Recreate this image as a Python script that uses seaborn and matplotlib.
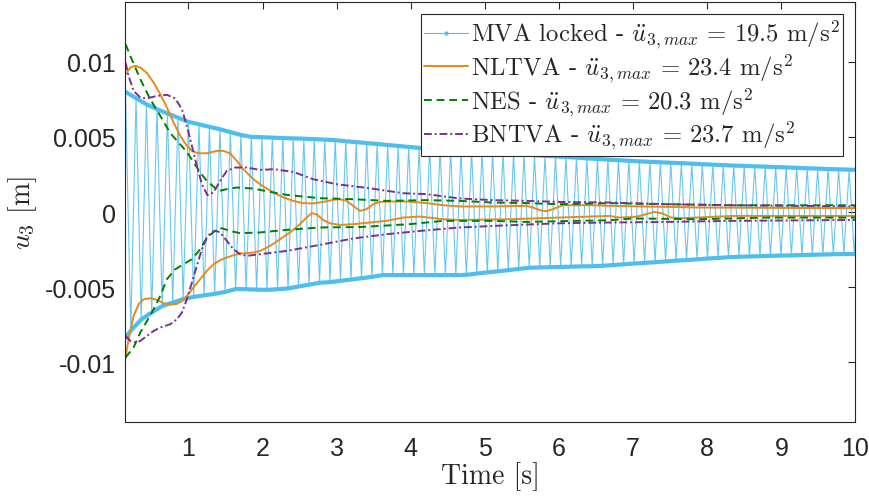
import numpy as np
import matplotlib
matplotlib.use('Agg')
import matplotlib.pyplot as plt
from matplotlib.lines import Line2D
from matplotlib.font_manager import FontProperties
import seaborn as sns

# MVA locked: positive peaks and negative troughs of the fast oscillation
mva_peak_t = [0.150, 0.292, 0.433, 0.575, 0.716, 0.858, 0.999, 1.141, 1.282, 1.424,
              1.565, 1.707, 1.848, 1.990, 2.131, 2.273, 2.414, 2.556, 2.697, 2.839,
              2.980, 3.122, 3.263, 3.405, 3.546, 3.688, 3.829, 3.971, 4.112, 4.254,
              4.395, 4.537, 4.678, 4.820, 4.961, 5.103, 5.244, 5.386, 5.527, 5.669,
              5.810, 5.952, 6.093, 6.235, 6.376, 6.518, 6.659, 6.801, 6.942, 7.084,
              7.225, 7.367, 7.508, 7.650, 7.791, 7.933, 8.074, 8.216, 8.357, 8.499,
              8.640, 8.782, 8.923, 9.065, 9.206, 9.348, 9.489, 9.631, 9.772, 9.914,
              10.055]
mva_peak_u = [0.00800, 0.00758, 0.00717, 0.00684, 0.00656, 0.00628, 0.00600, 0.00584, 0.00567, 0.00551,
              0.00532, 0.00513, 0.00500, 0.00498, 0.00495, 0.00492, 0.00490, 0.00488, 0.00485, 0.00482,
              0.00478, 0.00471, 0.00465, 0.00459, 0.00453, 0.00446, 0.00440, 0.00433, 0.00427, 0.00421,
              0.00416, 0.00412, 0.00408, 0.00404, 0.00400, 0.00395, 0.00391, 0.00387, 0.00383, 0.00379,
              0.00374, 0.00370, 0.00366, 0.00362, 0.00357, 0.00353, 0.00349, 0.00345, 0.00341, 0.00337,
              0.00334, 0.00331, 0.00328, 0.00325, 0.00322, 0.00318, 0.00315, 0.00312, 0.00309, 0.00307,
              0.00304, 0.00302, 0.00299, 0.00297, 0.00294, 0.00291, 0.00289, 0.00286, 0.00284, 0.00282,
              0.00280]
mva_trough_t = [0.079,
                0.221, 0.362, 0.504, 0.645, 0.787, 0.928, 1.070, 1.211, 1.353, 1.494,
                1.636, 1.777, 1.919, 2.060, 2.202, 2.343, 2.485, 2.626, 2.768, 2.909,
                3.051, 3.192, 3.334, 3.475, 3.617, 3.758, 3.900, 4.041, 4.183, 4.324,
                4.466, 4.607, 4.749, 4.890, 5.032, 5.173, 5.315, 5.456, 5.598, 5.739,
                5.881, 6.022, 6.164, 6.305, 6.447, 6.588, 6.730, 6.871, 7.013, 7.154,
                7.296, 7.437, 7.579, 7.720, 7.862, 8.003, 8.145, 8.286, 8.428, 8.569,
                8.711, 8.852, 8.994, 9.135, 9.277, 9.418, 9.560, 9.701, 9.843, 9.984]
mva_trough_u = [-0.00880,
                -0.00790, -0.00716, -0.00669, -0.00626, -0.00603, -0.00580, -0.00565, -0.00555, -0.00545, -0.00532,
                -0.00513, -0.00514, -0.00517, -0.00518, -0.00514, -0.00509, -0.00496, -0.00484, -0.00471, -0.00467,
                -0.00458, -0.00450, -0.00441, -0.00432, -0.00420, -0.00420, -0.00420, -0.00420, -0.00420, -0.00420,
                -0.00420, -0.00420, -0.00418, -0.00410, -0.00402, -0.00395, -0.00387, -0.00379, -0.00371, -0.00369,
                -0.00367, -0.00366, -0.00364, -0.00362, -0.00361, -0.00358, -0.00353, -0.00348, -0.00343, -0.00339,
                -0.00334, -0.00329, -0.00324, -0.00320, -0.00315, -0.00310, -0.00306, -0.00301, -0.00298, -0.00296,
                -0.00294, -0.00292, -0.00290, -0.00289, -0.00287, -0.00285, -0.00283, -0.00281, -0.00280, -0.00280]

# NLTVA envelope (upper / lower)
nltva_up_t = [0.150, 0.215, 0.282, 0.350, 0.440, 0.529, 0.619, 0.709, 0.798, 0.888,
              0.978, 1.046, 1.135, 1.248, 1.383, 1.471, 1.562, 1.652, 1.741, 1.876,
              2.010, 2.145, 2.280, 2.414, 2.549, 2.684, 2.818, 2.953, 3.043, 3.133,
              3.222, 3.312, 3.402, 3.492, 3.582, 3.761, 3.941, 4.121, 4.211, 4.435,
              4.659, 5.108, 5.558, 5.648, 5.737, 5.827, 5.917, 6.051, 6.455, 6.680,
              7.892, 10.0]
nltva_up_u = [0.00917, 0.00962, 0.00973, 0.00962, 0.00924, 0.00862, 0.00784, 0.00696, 0.00596, 0.00507,
              0.00440, 0.00407, 0.00391, 0.00391, 0.00407, 0.00407, 0.00390, 0.00340, 0.00285, 0.00218,
              0.00170, 0.00130, 0.00097, 0.00074, 0.00059, 0.00057, 0.00067, 0.00081, 0.00085, 0.00074,
              0.00041, 0.00007, 0.00019, 0.00052, 0.00067, 0.00070, 0.00070, 0.00063, 0.00059, 0.00045,
              0.00037, 0.00037, 0.00041, 0.00030, 0.00012, 0.00005, 0.00019, 0.00045, 0.00045, 0.00041,
              0.00030, 0.00025]
nltva_lo_t = [0.150, 0.192, 0.259, 0.327, 0.394, 0.484, 0.574, 0.663, 0.754, 0.844,
              0.911, 0.978, 1.067, 1.158, 1.248, 1.337, 1.427, 1.517, 1.606, 1.696,
              1.786, 1.876, 1.966, 2.100, 2.235, 2.370, 2.504, 2.594, 2.662, 2.729,
              2.818, 2.908, 3.043, 3.222, 3.447, 3.672, 3.896, 4.121, 4.435, 4.659,
              5.333, 6.006, 6.680, 6.814, 7.039, 7.174, 7.285, 7.397, 7.510, 7.667,
              8.340, 10.0]
nltva_lo_u = [-0.00969, -0.00847, -0.00692, -0.00614, -0.00581, -0.00574, -0.00585, -0.00607, -0.00616, -0.00612,
              -0.00592, -0.00559, -0.00503, -0.00447, -0.00392, -0.00348, -0.00321, -0.00303, -0.00288, -0.00276,
              -0.00274, -0.00270, -0.00259, -0.00226, -0.00181, -0.00136, -0.00081, -0.00037, -0.00008, -0.00015,
              -0.00053, -0.00075, -0.00086, -0.00081, -0.00070, -0.00059, -0.00037, -0.00030, -0.00048, -0.00053,
              -0.00048, -0.00037, -0.00026, -0.00037, -0.00032, -0.00015, 0.00001, -0.00010, -0.00037, -0.00041,
              -0.00026, -0.00026]

# NES envelope
nes_up_t = [0.150, 0.215, 0.282, 0.350, 0.484, 0.619, 0.754, 0.978, 1.158, 1.248,
            1.405, 1.517, 1.652, 1.876, 2.100, 2.325, 2.549, 2.774, 3.222, 3.672,
            4.211, 4.659, 5.108, 5.558, 6.006, 6.680, 7.443, 8.340, 10.0]
nes_up_u = [0.01117, 0.01039, 0.00962, 0.00884, 0.00751, 0.00640, 0.00525, 0.00400, 0.00263, 0.00207,
            0.00140, 0.00152, 0.00163, 0.00156, 0.00134, 0.00114, 0.00103, 0.00092, 0.00085, 0.00074,
            0.00079, 0.00074, 0.00063, 0.00059, 0.00052, 0.00059, 0.00052, 0.00045, 0.00045]
nes_lo_t = [0.150, 0.259, 0.350, 0.506, 0.619, 0.709, 0.821, 0.933, 1.046, 1.158,
            1.248, 1.383, 1.450, 1.562, 1.696, 1.966, 2.325, 2.774, 3.313, 3.986,
            4.435, 5.108, 5.558, 6.230, 6.680, 7.000, 7.890, 8.790, 10.0]
nes_lo_u = [-0.00969, -0.00902, -0.00802, -0.00669, -0.00559, -0.00447, -0.00381, -0.00348, -0.00314, -0.00248,
            -0.00170, -0.00115, -0.00108, -0.00126, -0.00141, -0.00136, -0.00119, -0.00103, -0.00100, -0.00081,
            -0.00059, -0.00059, -0.00066, -0.00059, -0.00055, -0.00043, -0.00048, -0.00037, -0.00037]

# BNTVA envelope
bntva_up_t = [0.150, 0.192, 0.259, 0.350, 0.440, 0.574, 0.709, 0.821, 0.911, 0.978,
              1.046, 1.113, 1.180, 1.256, 1.337, 1.427, 1.517, 1.629, 1.786, 1.966,
              2.145, 2.414, 2.684, 2.998, 3.447, 3.896, 4.211, 4.659, 5.108, 5.558,
              6.006, 6.680, 7.443, 8.340, 10.0]
bntva_up_u = [0.00995, 0.00906, 0.00806, 0.00762, 0.00756, 0.00773, 0.00780, 0.00756, 0.00684, 0.00573,
              0.00440, 0.00307, 0.00185, 0.00112, 0.00130, 0.00207, 0.00274, 0.00296, 0.00296, 0.00280,
              0.00285, 0.00267, 0.00218, 0.00185, 0.00158, 0.00125, 0.00119, 0.00090, 0.00079, 0.00074,
              0.00067, 0.00063, 0.00052, 0.00045, 0.00037]
bntva_lo_t = [0.150, 0.215, 0.282, 0.350, 0.440, 0.529, 0.619, 0.754, 0.844, 0.911,
              0.978, 1.046, 1.113, 1.180, 1.248, 1.315, 1.373, 1.427, 1.517, 1.606,
              1.696, 1.786, 1.966, 2.325, 2.774, 3.222, 3.672, 4.121, 4.659, 5.333,
              6.006, 6.680, 7.443, 8.340, 10.0]
bntva_lo_u = [-0.00825, -0.00858, -0.00869, -0.00858, -0.00825, -0.00792, -0.00769, -0.00747, -0.00714, -0.00669,
              -0.00581, -0.00469, -0.00359, -0.00248, -0.00170, -0.00132, -0.00126, -0.00136, -0.00192, -0.00248,
              -0.00281, -0.00292, -0.00281, -0.00259, -0.00219, -0.00176, -0.00148, -0.00126, -0.00103, -0.00088,
              -0.00075, -0.00070, -0.00066, -0.00059, -0.00053]

labels = [r'MVA locked - $\ddot{u}_{3,max}\,=\,19.5$ m/s$^2$',
          r'NLTVA - $\ddot{u}_{3,max}\,=\,23.4$ m/s$^2$',
          r'NES - $\ddot{u}_{3,max}\,=\,20.3$ m/s$^2$',
          r'BNTVA - $\ddot{u}_{3,max}\,=\,23.7$ m/s$^2$']
xticks = [1, 2, 3, 4, 5, 6, 7, 8, 9, 10]
yticks = [-0.01, -0.005, 0, 0.005, 0.01]
ytick_labels = ['-0.01', '-0.005', '0', '0.005', '0.01']

c_mva = '#4DBEEE'
c_nltva = '#E8891C'
c_nes = '#008000'
c_bntva = '#7E2F8E'

sns.set_theme(style='white')
plt.rcParams['font.family'] = ['Liberation Sans', 'DejaVu Sans']
plt.rcParams['mathtext.fontset'] = 'cm'
plt.rcParams['axes.unicode_minus'] = False

fig = plt.figure(figsize=(8.7, 5.02), dpi=100)
ax = fig.add_axes([125.5 / 870, 1 - 423.3 / 502, 730 / 870, 420.6 / 502])

# zigzag signal through alternating peaks and troughs
zz_t = np.concatenate([mva_peak_t, mva_trough_t])
zz_u = np.concatenate([mva_peak_u, mva_trough_u])
sns.lineplot(x=zz_t, y=zz_u, ax=ax, color=c_mva, lw=0.8, alpha=0.85)
sns.lineplot(x=mva_peak_t, y=mva_peak_u, ax=ax, color=c_mva, lw=3.0)
sns.lineplot(x=mva_trough_t, y=mva_trough_u, ax=ax, color=c_mva, lw=3.0)

sns.lineplot(x=nltva_up_t, y=nltva_up_u, ax=ax, color=c_nltva, lw=1.4)
sns.lineplot(x=nltva_lo_t, y=nltva_lo_u, ax=ax, color=c_nltva, lw=1.4)
sns.lineplot(x=nes_up_t, y=nes_up_u, ax=ax, color=c_nes, lw=1.4, linestyle=(0, (4, 2.5)))
sns.lineplot(x=nes_lo_t, y=nes_lo_u, ax=ax, color=c_nes, lw=1.4, linestyle=(0, (4, 2.5)))
sns.lineplot(x=bntva_up_t, y=bntva_up_u, ax=ax, color=c_bntva, lw=1.4, linestyle=(0, (4, 1.5, 1, 1.5)))
sns.lineplot(x=bntva_lo_t, y=bntva_lo_u, ax=ax, color=c_bntva, lw=1.4, linestyle=(0, (4, 1.5, 1, 1.5)))

ax.set_xlim(0.15, 10)
ax.set_ylim(-0.014, 0.014)
ax.set_xticks(xticks)
ax.set_xticklabels([str(v) for v in xticks])
ax.set_yticks(yticks)
ax.set_yticklabels(ytick_labels)
ax.tick_params(direction='in', length=5, width=0.8, top=True, right=True,
               labelsize=18, colors='#262626', pad=7)
ax.tick_params(axis='x', pad=10)
for s in ax.spines.values():
    s.set_color('#262626')
    s.set_linewidth(0.8)

cm_font = 'cmr10'
ax.set_xlabel('Time [s]', fontfamily=cm_font, fontsize=20, labelpad=1, color='#262626')
ax.set_ylabel(r'$u_3$ [m]', fontfamily=cm_font, fontsize=20, labelpad=4, color='#262626')

handles = [Line2D([], [], color=c_mva, lw=0.8, marker='.', markersize=4),
           Line2D([], [], color=c_nltva, lw=1.4),
           Line2D([], [], color=c_nes, lw=1.4, linestyle=(0, (4, 2.5))),
           Line2D([], [], color=c_bntva, lw=1.4, linestyle=(0, (4, 1.5, 1, 1.5)))]
leg = ax.legend(handles, labels, loc='upper right', prop=FontProperties(family=cm_font, size=17.8),
                frameon=True, fancybox=False, framealpha=1, edgecolor='#262626',
                handlelength=1.75, handletextpad=0.12, borderpad=0.15, labelspacing=0.02,
                borderaxespad=0.5)
leg.get_frame().set_linewidth(0.8)

fig.savefig('out.png', dpi=100)
